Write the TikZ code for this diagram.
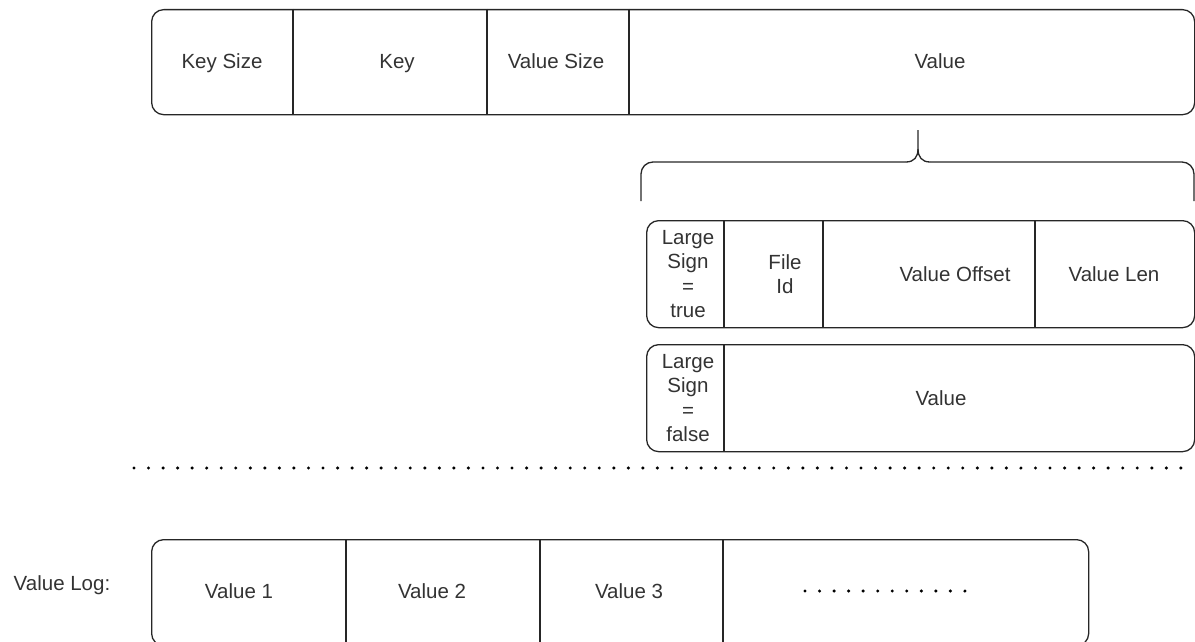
\documentclass[tikz,border=0pt]{standalone}
\usepackage{fontspec}
\setmainfont{Liberation Sans}
\begin{document}
\begin{tikzpicture}[x=1pt,y=-1pt,
  rec/.style={draw=black!85, line width=1.3pt, rounded corners=12pt, anchor=north west, inner sep=0pt},
  divline/.style={draw=black!85, line width=1.3pt},
  lbl/.style={font=\fontsize{20.5}{24.5}\selectfont, text=black!80, inner sep=0pt, align=center},
  one/.style={lbl, text height=14pt, text depth=5pt, yshift=-2.5pt},
  dotline/.style={draw=black, line width=3.4pt, dash pattern=on 0pt off 14.54pt, line cap=round}]
\useasboundingbox (0,0) rectangle (1195,642);
% top record
\node[rec, minimum width=1043pt, minimum height=105pt] (rec1) at (151,9) {};
\draw[divline] (293,9) -- (293,114);
\draw[divline] (487,9) -- (487,114);
\draw[divline] (629,9) -- (629,114);
\node[one] (ks) at (222,62) {Key Size};
\node[one] (k) at (397,62) {Key};
\node[one] (vs) at (556,62) {Value Size};
\node[one] (v) at (940,62) {Value};
% brace
\coordinate (brL) at (641,201);
\coordinate (brR) at (1194,201);
\coordinate (brT) at (918,130);
\draw[divline, rounded corners=12pt] (brL) -- (641,162) -- (906,162);
\draw[divline] (906,162) .. controls (914,162) and (918,157) .. (918,149) -- (brT);
\draw[divline] (930,162) .. controls (922,162) and (918,157) .. (918,149);
\draw[divline, rounded corners=12pt] (930,162) -- (1194,162) -- (brR);
% large sign = true
\node[rec, minimum width=548pt, minimum height=107pt] (rec2) at (646,220) {};
\draw[divline] (724,220) -- (724,327);
\draw[divline] (823,220) -- (823,327);
\draw[divline] (1035,220) -- (1035,327);
\node[lbl] (lst) at (688,274) {Large\\Sign\\=\\true};
\node[lbl] (fid) at (785,274) {File\\Id};
\node[one] (vo) at (955,274) {Value Offset};
\node[one] (vl) at (1114,274) {Value Len};
% large sign = false
\node[rec, minimum width=548pt, minimum height=107pt] (rec3) at (646,344) {};
\draw[divline] (724,344) -- (724,451);
\node[lbl] (lsf) at (688,398) {Large\\Sign\\=\\false};
\node[one] (v2) at (941,398) {Value};
% separator
\coordinate (sepL) at (134,468);
\coordinate (sepR) at (1182,468);
\draw[dotline] (sepL) -- (sepR);
% value log
\node[one] (vlog) at (62,583) {Value Log:};
\node[rec, minimum width=937pt, minimum height=106pt] (rec4) at (151,539) {};
\draw[divline] (346,539) -- (346,645);
\draw[divline] (540,539) -- (540,645);
\draw[divline] (723,539) -- (723,645);
\node[one] (val1) at (239,591) {Value 1};
\node[one] (val2) at (432,591) {Value 2};
\node[one] (val3) at (629,591) {Value 3};
\coordinate (dL) at (805,591);
\coordinate (dR) at (979,591);
\draw[dotline] (dL) -- (dR);
\end{tikzpicture}
\end{document}
